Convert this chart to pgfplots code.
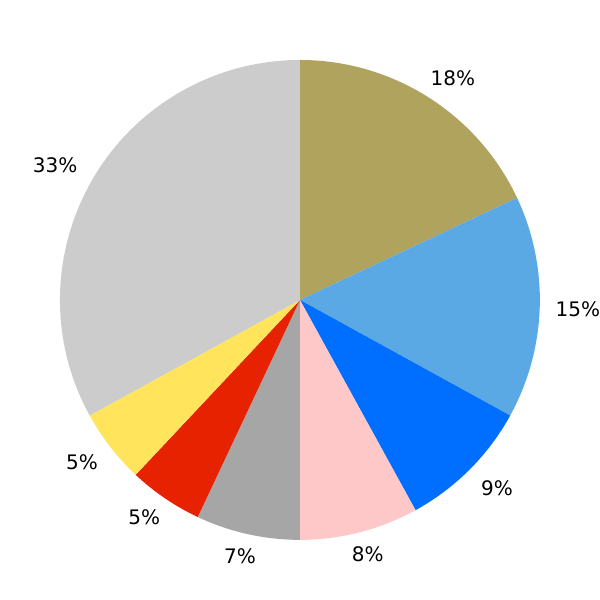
\documentclass[border=0pt]{standalone}
\usepackage{fontspec}
\setmainfont{DejaVu Sans}
\usepackage{pgfplots}
\usepackage{pgfplotstable}
\pgfplotsset{compat=1.18}
\definecolor{s0}{HTML}{AFA35E}
\definecolor{s1}{HTML}{5AA9E5}
\definecolor{s2}{HTML}{006EFF}
\definecolor{s3}{HTML}{FFC8C8}
\definecolor{s4}{HTML}{A6A6A6}
\definecolor{s5}{HTML}{E62200}
\definecolor{s6}{HTML}{FFE45C}
\definecolor{s7}{HTML}{CCCCCC}
\pgfplotstableread{
value lx ly
18 0.6375 0.925
15 1.158 -0.0375
9 0.821 -0.785
8 0.283 -1.061
7 -0.25 -1.067
5 -0.649 -0.906
5 -0.908 -0.677
33 -1.02 0.5625
}\piedata
\begin{document}
\begin{tikzpicture}
\begin{axis}[hide axis, scale only axis, width=300pt, height=300pt,
  xmin=-1.25, xmax=1.25, ymin=-1.25, ymax=1.25, clip=false]
\path (rel axis cs:0,0) rectangle (rel axis cs:1,1);
\pgfplotstablegetrowsof{\piedata}
\pgfmathtruncatemacro\nrows{\pgfplotsretval-1}
\def\cum{0}
\pgfplotsforeachungrouped \i in {0,...,\nrows}{%
  \pgfplotstablegetelem{\i}{value}\of\piedata \let\v\pgfplotsretval
  \pgfplotstablegetelem{\i}{lx}\of\piedata \let\lx\pgfplotsretval
  \pgfplotstablegetelem{\i}{ly}\of\piedata \let\ly\pgfplotsretval
  \pgfmathsetmacro\a{90-3.6*\cum}%
  \pgfmathsetmacro\b{90-3.6*(\cum+\v)}%
  \pgfmathsetmacro\ca{cos(\a)}%
  \pgfmathsetmacro\sa{sin(\a)}%
  \edef\temp{\noexpand\fill[s\i] (axis cs:0,0) -- (axis cs:\ca,\sa) arc[start angle=\a, end angle=\b, radius=120pt] -- cycle;
    \noexpand\node[font=\noexpand\fontsize{10}{12}\noexpand\selectfont, inner sep=0pt] at (axis cs:\lx,\ly) {\v\noexpand\%};}%
  \temp
  \pgfmathsetmacro\cum{\cum+\v}%
}
\end{axis}
\end{tikzpicture}
\end{document}
